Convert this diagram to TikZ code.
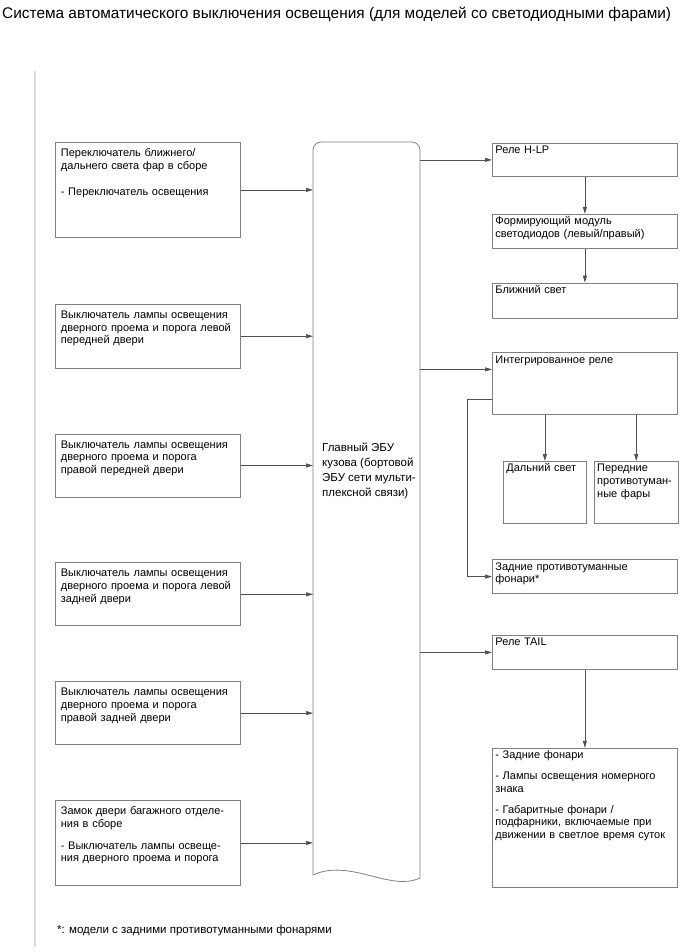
\documentclass[tikz,border=0pt]{standalone}
\usepackage{fontspec}
\setmainfont{Liberation Sans}
\usepackage{tikz}
\usetikzlibrary{positioning,arrows.meta,calc}
\definecolor{boxGray}{HTML}{808080}
\definecolor{wireGray}{HTML}{505050}
\definecolor{ruleGray}{HTML}{DCDCDC}

\begin{document}
\begin{tikzpicture}[
  x=1pt, y=-1pt,
  every node/.style={font=\fontsize{11}{12.8}\selectfont},
  inbox/.style={rectangle, draw=boxGray, line width=0.8pt, anchor=north west,
                text width=174pt, inner xsep=5.5pt, inner ysep=0pt, align=left, text height=14pt},
  outbox/.style={rectangle, draw=boxGray, line width=0.8pt, anchor=north west,
                 text width=179pt, inner xsep=3pt, inner ysep=0pt, align=left, text height=10.5pt},
  ecutext/.style={anchor=west, align=left, inner sep=0pt, font=\fontsize{11.5}{15}\selectfont},
  wire/.style={draw=wireGray, line width=0.7pt},
  >={Triangle[length=7pt,width=4pt]}
]
  \useasboundingbox (0,0) rectangle (690,952);

  \node[anchor=west, inner sep=0pt, font=\fontsize{15.4}{18}\selectfont] (title) at (2,14)
    {Система автоматического выключения освещения (для моделей со светодиодными фарами)};
  \draw[ruleGray, line width=1.5pt] (35,71) -- (35,947);

  % inputs
  \node[inbox, text depth=81pt] (lightsw) at (55,142)
    {Переключатель ближнего/\\дальнего света фар в сборе\\[14pt]- Переключатель освещения};
  \node[inbox, text depth=50pt, below=66pt of lightsw.south west, anchor=north west] (doorFL)
    {Выключатель лампы освещения\\дверного проема и порога левой\\передней двери};
  \node[inbox, text depth=49pt, below=65pt of doorFL.south west, anchor=north west] (doorFR)
    {Выключатель лампы освещения\\дверного проема и порога\\правой передней двери};
  \node[inbox, text depth=49pt, below=65pt of doorFR.south west, anchor=north west] (doorRL)
    {Выключатель лампы освещения\\дверного проема и порога левой\\задней двери};
  \node[inbox, text depth=49pt, below=55pt of doorRL.south west, anchor=north west] (doorRR)
    {Выключатель лампы освещения\\дверного проема и порога\\правой задней двери};
  \node[inbox, text depth=71pt, below=55pt of doorRR.south west, anchor=north west] (trunk)
    {Замок двери багажного отделе-\\ния в сборе\\[9pt]- Выключатель лампы освеще-\\ния дверного проема и порога};

  % body ECU
  \coordinate (ecuL) at (313,500);
  \coordinate (ecuR) at (420,500);
  \draw[boxGray, line width=0.8pt] (313,875) -- (313,150) .. controls (313,145.6) and (316.6,142) .. (321,142)
    -- (412,142) .. controls (416.4,142) and (420,145.6) .. (420,150) -- (420,878)
    .. controls (390,892) and (350,858) .. (313,875) -- cycle;
  \node[ecutext] (ecu) at (322,471) {Главный ЭБУ\\кузова (бортовой\\ЭБУ сети мульти-\\плексной связи)};

  % outputs
  \node[outbox, text depth=22.5pt] (hlp) at (492,143) {Реле H-LP};
  \node[outbox, text depth=23.5pt, below=37pt of hlp.south west, anchor=north west] (led)
    {Формирующий модуль\\светодиодов (левый/правый)};
  \node[outbox, text depth=24.5pt, below=34pt of led.south west, anchor=north west] (low) {Ближний свет};
  \node[outbox, text depth=51.5pt, below=34pt of low.south west, anchor=north west] (irel) {Интегрированное реле};
  \node[outbox, text depth=51.5pt, text width=77pt] (high) at (503,461) {Дальний свет};
  \node[outbox, text depth=51.5pt, text width=78pt, right=7pt of high.north east, anchor=north west] (ffog)
    {Передние\\противотуман-\\ные фары};
  \node[outbox, text depth=23.5pt, below=144pt of irel.south west, anchor=north west] (rfog)
    {Задние противотуманные\\фонари*};
  \node[outbox, text depth=23.5pt, below=41pt of rfog.south west, anchor=north west] (tail) {Реле TAIL};
  \node[outbox, text depth=128.5pt, below=78pt of tail.south west, anchor=north west] (lamps)
    {- Задние фонари\\[8pt]- Лампы освещения номерного\\знака\\[8pt]- Габаритные фонари /\\подфарники, включаемые при\\движении в светлое время суток};

  \node[anchor=west, inner sep=0pt, font=\fontsize{11.5}{14}\selectfont] (note) at (57,931)
    {*: модели с задними противотуманными фонарями};

  \coordinate (irelIn) at ($(irel.north west)+(0,17)$);
  \coordinate (irelOut) at ($(irel.north west)+(0,47)$);

  \draw[wire,->] (lightsw.east) -- (lightsw.east -| ecuL);
  \draw[wire,->] (doorFL.east) -- (doorFL.east -| ecuL);
  \draw[wire,->] (doorFR.east) -- (doorFR.east -| ecuL);
  \draw[wire,->] (doorRL.east) -- (doorRL.east -| ecuL);
  \draw[wire,->] (doorRR.east) -- (doorRR.east -| ecuL);
  \draw[wire,->] (trunk.east) -- (trunk.east -| ecuL);

  \draw[wire,->] (ecuR |- hlp.west) -- (hlp.west);
  \draw[wire,->] (ecuR |- irelIn) -- (irelIn);
  \draw[wire,->] (ecuR |- tail.west) -- (tail.west);

  \draw[wire,->] (hlp) -- (led);
  \draw[wire,->] (led) -- (low);
  \draw[wire,->] (irel.south -| high.north) -- (high.north);
  \draw[wire,->] (irel.south -| ffog.north) -- (ffog.north);
  \draw[wire,->] (irelOut) -- ++(-25,0) |- (rfog.west);
  \draw[wire,->] (tail) -- (lamps);
\end{tikzpicture}
\end{document}
